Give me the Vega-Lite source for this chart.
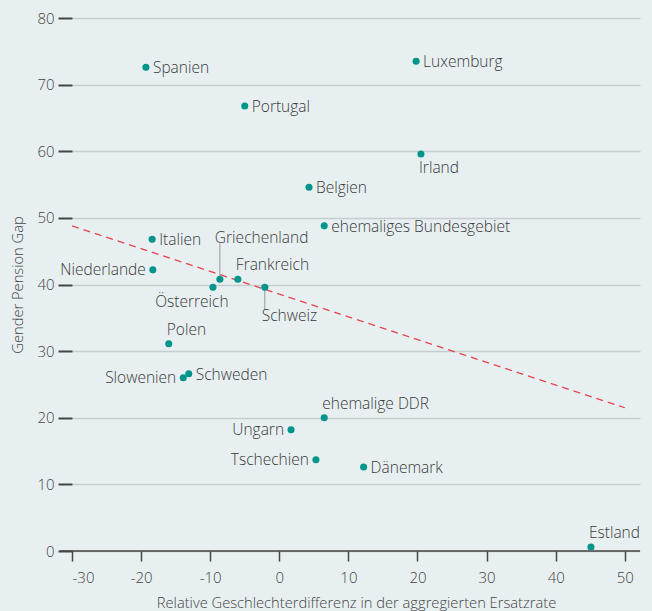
{
  "$schema": "https://vega.github.io/schema/vega-lite/v6.json",
  "autosize": "none",
  "width": 568,
  "height": 533,
  "padding": {"left": 72, "top": 18, "right": 12, "bottom": 60},
  "background": "#e7eff1",
  "config": {
    "view": {"stroke": null},
    "font": "Open Sans",
    "axis": {"labelFont": "Open Sans", "titleFont": "Open Sans", "labelColor": "#444", "titleColor": "#444", "labelFontSize": 15, "titleFontSize": 14.7, "titleFontWeight": 300, "labelFontWeight": 300},
    "text": {"font": "Open Sans", "fontSize": 15.5, "fontWeight": 300, "color": "#3a3a3a"}
  },
  "datasets": {
    "pts": [
      {"land": "Spanien", "x": -19.3, "y": 72.6},
      {"land": "Luxemburg", "x": 19.8, "y": 73.5},
      {"land": "Portugal", "x": -5.0, "y": 66.8},
      {"land": "Irland", "x": 20.5, "y": 59.6},
      {"land": "Belgien", "x": 4.3, "y": 54.6},
      {"land": "ehemaliges Bundesgebiet", "x": 6.5, "y": 48.8},
      {"land": "Italien", "x": -18.4, "y": 46.8},
      {"land": "Niederlande", "x": -18.3, "y": 42.2},
      {"land": "Griechenland", "x": -8.6, "y": 40.8},
      {"land": "Österreich", "x": -9.6, "y": 39.6},
      {"land": "Frankreich", "x": -6.0, "y": 40.8},
      {"land": "Schweiz", "x": -2.1, "y": 39.6},
      {"land": "Polen", "x": -16.0, "y": 31.1},
      {"land": "Slowenien", "x": -13.9, "y": 26.0},
      {"land": "Schweden", "x": -13.1, "y": 26.6},
      {"land": "ehemalige DDR", "x": 6.5, "y": 20.0},
      {"land": "Ungarn", "x": 1.7, "y": 18.2},
      {"land": "Tschechien", "x": 5.3, "y": 13.7},
      {"land": "Dänemark", "x": 12.2, "y": 12.6},
      {"land": "Estland", "x": 45.1, "y": 0.6}
    ],
    "trend": [
      {"x": -30, "y": 48.8},
      {"x": 50, "y": 21.5}
    ],
    "leader": [
      {"land": "Griechenland", "x": -8.6, "y1": 40.8, "y2": 46.2},
      {"land": "Schweiz", "x": -2.1, "y1": 39.6, "y2": 36.2}
    ]
  },
  "layer": [
    {
      "data": {"name": "trend"},
      "mark": {"type": "line", "color": "#e8434c", "strokeDash": [7, 5], "strokeWidth": 1.2, "clip": true},
      "encoding": {
        "x": {"field": "x", "type": "quantitative", "scale": {"domain": [-30, 52.2], "nice": false, "zero": false},
          "axis": {"values": [-30, -20, -10, 0, 10, 20, 30, 40, 50], "labelExpr": "'' + datum.value", "title": "Relative Geschlechterdifferenz in der aggregierten Ersatzrate", "grid": false, "domain": false, "ticks": true, "tickSize": 10, "tickColor": "#444", "tickWidth": 1.5, "labelPadding": 9, "titlePadding": 10, "offset": 0}},
        "y": {"field": "y", "type": "quantitative", "scale": {"domain": [0, 80], "nice": false},
          "axis": {"values": [0, 10, 20, 30, 40, 50, 60, 70, 80], "title": "Gender Pension Gap", "grid": true, "gridColor": "#c5cdd0", "gridWidth": 1.5, "domain": false, "tickSize": 14, "tickColor": "#444", "tickWidth": 2, "labelPadding": 4, "titlePadding": 11}}
      }
    },
    {
      "data": {"values": [{"y": 0}]},
      "mark": {"type": "rule", "color": "#444", "strokeWidth": 1.5, "x": -12, "x2": 568},
      "encoding": {"y": {"field": "y", "type": "quantitative"}}
    },
    {
      "data": {"name": "leader"},
      "mark": {"type": "rule", "color": "#999", "strokeWidth": 1},
      "encoding": {
        "x": {"field": "x", "type": "quantitative"},
        "y": {"field": "y1", "type": "quantitative"},
        "y2": {"field": "y2"}
      }
    },
    {
      "data": {"name": "pts"},
      "mark": {"type": "circle", "size": 50, "color": "#00958a", "opacity": 1},
      "encoding": {
        "x": {"field": "x", "type": "quantitative"},
        "y": {"field": "y", "type": "quantitative"}
      }
    },
    {
      "data": {"name": "pts"},
      "transform": [{"filter": {"field": "land", "oneOf": ["Spanien", "Luxemburg", "Portugal", "Belgien", "ehemaliges Bundesgebiet", "Italien", "Schweden", "Dänemark"]}}],
      "mark": {"type": "text", "align": "left", "baseline": "middle", "dx": 7, "dy": 1},
      "encoding": {
        "x": {"field": "x", "type": "quantitative"},
        "y": {"field": "y", "type": "quantitative"},
        "text": {"field": "land"}
      }
    },
    {
      "data": {"name": "pts"},
      "transform": [{"filter": {"field": "land", "oneOf": ["Niederlande", "Slowenien", "Ungarn", "Tschechien"]}}],
      "mark": {"type": "text", "align": "right", "baseline": "middle", "dx": -7},
      "encoding": {
        "x": {"field": "x", "type": "quantitative"},
        "y": {"field": "y", "type": "quantitative"},
        "text": {"field": "land"}
      }
    },
    {
      "data": {"name": "pts"},
      "transform": [{"filter": {"field": "land", "oneOf": ["Frankreich", "Polen", "ehemalige DDR", "Estland"]}}],
      "mark": {"type": "text", "align": "left", "baseline": "middle", "dx": -2, "dy": -14},
      "encoding": {
        "x": {"field": "x", "type": "quantitative"},
        "y": {"field": "y", "type": "quantitative"},
        "text": {"field": "land"}
      }
    },
    {
      "data": {"name": "pts"},
      "transform": [{"filter": {"field": "land", "equal": "Griechenland"}}],
      "mark": {"type": "text", "align": "left", "baseline": "middle", "dx": -5, "dy": -41},
      "encoding": {
        "x": {"field": "x", "type": "quantitative"},
        "y": {"field": "y", "type": "quantitative"},
        "text": {"field": "land"}
      }
    },
    {
      "data": {"name": "pts"},
      "transform": [{"filter": {"field": "land", "equal": "Irland"}}],
      "mark": {"type": "text", "align": "left", "baseline": "middle", "dx": -2, "dy": 14},
      "encoding": {
        "x": {"field": "x", "type": "quantitative"},
        "y": {"field": "y", "type": "quantitative"},
        "text": {"field": "land"}
      }
    },
    {
      "data": {"name": "pts"},
      "transform": [{"filter": {"field": "land", "equal": "Österreich"}}],
      "mark": {"type": "text", "align": "center", "baseline": "middle", "dx": -21, "dy": 15},
      "encoding": {
        "x": {"field": "x", "type": "quantitative"},
        "y": {"field": "y", "type": "quantitative"},
        "text": {"field": "land"}
      }
    },
    {
      "data": {"name": "pts"},
      "transform": [{"filter": {"field": "land", "equal": "Schweiz"}}],
      "mark": {"type": "text", "align": "left", "baseline": "middle", "dx": -3, "dy": 29},
      "encoding": {
        "x": {"field": "x", "type": "quantitative"},
        "y": {"field": "y", "type": "quantitative"},
        "text": {"field": "land"}
      }
    }
  ]
}
